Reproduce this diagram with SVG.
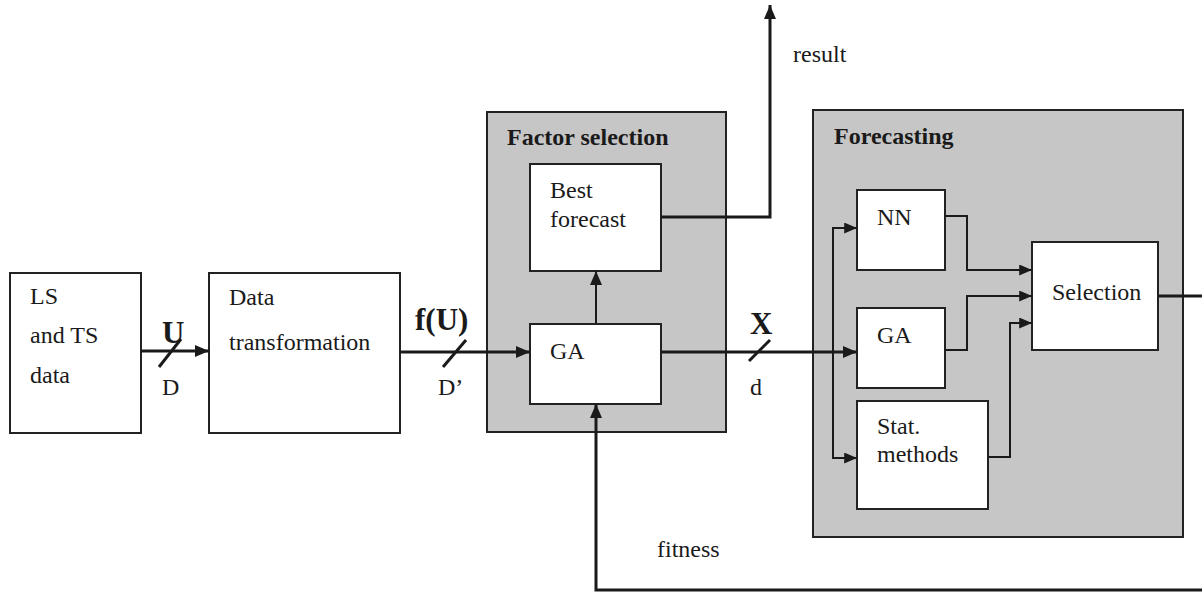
<svg xmlns="http://www.w3.org/2000/svg" width="1202" height="592" viewBox="0 0 1202 592">
<style>
.box{fill:#fff;stroke:#222;stroke-width:2}
.grp{fill:#c6c6c6;stroke:#222;stroke-width:2}
.t{font-family:"Liberation Serif","Times New Roman",serif;font-size:24px;fill:#1a1a1a}
.b{font-family:"Liberation Serif","Times New Roman",serif;font-size:24px;font-weight:bold;fill:#1a1a1a}
.big{font-family:"Liberation Serif","Times New Roman",serif;font-size:31px;font-weight:bold;fill:#1a1a1a}
.w{fill:none;stroke:#1a1a1a;stroke-width:3}
.n{fill:none;stroke:#1a1a1a;stroke-width:2}
</style>
<defs>
<marker id="ah" viewBox="0 0 14 12" refX="14" refY="6" markerWidth="14" markerHeight="12" orient="auto" markerUnits="userSpaceOnUse"><path d="M0,0 L14,6 L0,12 z" fill="#1a1a1a"/></marker>
<marker id="as" viewBox="0 0 14 12" refX="14" refY="6" markerWidth="13" markerHeight="11" orient="auto" markerUnits="userSpaceOnUse"><path d="M0,0 L14,6 L0,12 z" fill="#1a1a1a"/></marker>
</defs>
<g id="factor-selection">
<rect class="grp" x="487" y="112" width="239" height="320"/>
<text class="b" x="507" y="145">Factor selection</text>
</g>
<g id="forecasting">
<rect class="grp" x="813" y="110" width="370" height="427"/>
<text class="b" x="834" y="144">Forecasting</text>
</g>
<g id="ls-ts-data">
<rect class="box" x="10" y="273" width="131" height="160"/>
<text class="t" x="30" y="304">LS</text>
<text class="t" x="30" y="343">and TS</text>
<text class="t" x="30" y="383">data</text>
</g>
<g id="data-transformation">
<rect class="box" x="209" y="273" width="191" height="160"/>
<text class="t" x="229" y="305">Data</text>
<text class="t" x="229" y="350">transformation</text>
</g>
<g id="best-forecast">
<rect class="box" x="530" y="164" width="131" height="107"/>
<text class="t" x="550" y="198">Best</text>
<text class="t" x="550" y="227">forecast</text>
</g>
<g id="ga-factor">
<rect class="box" x="530" y="324" width="131" height="80"/>
<text class="t" x="550" y="359">GA</text>
</g>
<g id="nn">
<rect class="box" x="857" y="190" width="88" height="80"/>
<text class="t" x="877" y="225">NN</text>
</g>
<g id="ga-forecast">
<rect class="box" x="857" y="308" width="88" height="80"/>
<text class="t" x="877" y="343">GA</text>
</g>
<g id="stat-methods">
<rect class="box" x="857" y="401" width="131" height="108"/>
<text class="t" x="877" y="434">Stat.</text>
<text class="t" x="877" y="462">methods</text>
</g>
<g id="selection">
<rect class="box" x="1032" y="242" width="126" height="108"/>
<text class="t" x="1052" y="300">Selection</text>
</g>
<g id="connectors">
<path class="w" d="M141,351 H209" marker-end="url(#ah)"/>
<line class="w" x1="159" y1="367" x2="181" y2="339"/>
<text class="big" x="162" y="343">U</text>
<text class="t" x="162" y="395">D</text>
<path class="w" d="M400,352 H530" marker-end="url(#ah)"/>
<line class="w" x1="443" y1="367" x2="466" y2="340"/>
<text class="big" x="415" y="330">f(U)</text>
<text class="t" x="438" y="395">D’</text>
<path class="n" d="M596,324 V271" marker-end="url(#ah)"/>
<path class="w" d="M661,217 H770 V5" marker-end="url(#ah)"/>
<text class="t" x="793" y="62">result</text>
<path class="w" d="M661,352 H857" marker-end="url(#ah)"/>
<line class="w" x1="749" y1="361" x2="770" y2="340"/>
<text class="big" x="750" y="334">X</text>
<text class="t" x="750" y="395">d</text>
<path class="n" d="M833,352 V228 H857" marker-end="url(#as)"/>
<path class="n" d="M833,352 V458 H857" marker-end="url(#as)"/>
<path class="n" d="M945,216 H967 V270 H1032" marker-end="url(#as)"/>
<path class="n" d="M945,350 H967 V296 H1032" marker-end="url(#as)"/>
<path class="n" d="M988,457 H1010 V323 H1032" marker-end="url(#as)"/>
<path class="w" d="M1158,296 H1212 V590 H596 V404" marker-end="url(#ah)"/>
<text class="t" x="657" y="557">fitness</text>
</g>
</svg>
